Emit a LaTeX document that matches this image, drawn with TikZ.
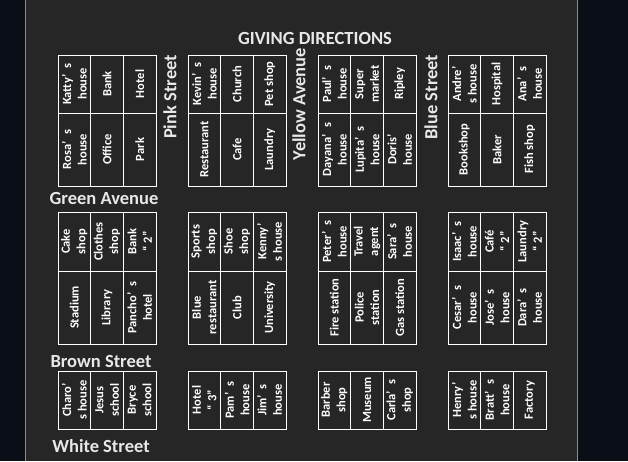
\documentclass[tikz,border=0pt]{standalone}
\usepackage{fontspec}
\setmainfont{Carlito}
\definecolor{nightBg}{RGB}{10,14,22}
\definecolor{panelG}{RGB}{38,38,38}
\definecolor{edgeG}{RGB}{140,140,140}
\definecolor{chalk}{RGB}{232,232,232}

\begin{document}
\begin{tikzpicture}[x=1pt,y=-1pt]
  \tikzset{cell/.style={draw=white,line width=0.9pt,rotate=90,minimum width=#1,minimum height=32.67pt,inner sep=1pt,outer sep=0pt,align=center,text=white,font=\fontsize{12.5}{15.5}\selectfont\bfseries},
    street/.style={text=chalk,inner sep=0pt,font=\fontsize{18.5}{20}\selectfont\bfseries}}
  \useasboundingbox (0,0) rectangle (628,461);
  \fill[nightBg] (0,0) rectangle (628,461);
  \fill[panelG] (25.5,0) rectangle (577.5,461);
  \draw[edgeG,line width=0.8pt] (25.5,0) -- (25.5,461) (577.5,0) -- (577.5,461);
  \node[text=chalk,font=\fontsize{18.5}{20}\selectfont\bfseries] (title) at (315,38) {GIVING DIRECTIONS};
  % first band of blocks
  \foreach \b/\ta/\tb/\tc in {0/{Katty’\enspace s\\house}/Bank/Hotel,1/{Kevin’\enspace s\\house}/Church/Pet shop,2/{Paul’\enspace s\\house}/{Super\\market}/Ripley,3/{Andre’\\s house}/Hospital/{Ana’\enspace s\\house}} {
    \node[cell=58pt] (a\b-1) at ({74.33+130*\b},84) {\ta};
    \node[cell=58pt] (a\b-2) at ({107+130*\b},84) {\tb};
    \node[cell=58pt] (a\b-3) at ({139.67+130*\b},84) {\tc};
  }
  \foreach \b/\ta/\tb/\tc in {0/{Rosa’\enspace s\\house}/Office/Park,1/Restaurant/Cafe/Laundry,2/{Dayana’\enspace s\\house}/{Lupita’\enspace s\\house}/{Doris’\\house},3/Bookshop/Baker/Fish shop} {
    \node[cell=73pt] (b\b-1) at ({74.33+130*\b},149.5) {\ta};
    \node[cell=73pt] (b\b-2) at ({107+130*\b},149.5) {\tb};
    \node[cell=73pt] (b\b-3) at ({139.67+130*\b},149.5) {\tc};
  }
  % second band of blocks
  \foreach \b/\ta/\tb/\tc in {0/{Cake\\shop}/{Clothes\\shop}/{Bank\\“ 2”},1/{Sports\\shop}/{Shoe\\shop}/{Kenny’\\s house},2/{Peter’\enspace s\\house}/{Travel\\agent}/{Sara’\enspace s\\house},3/{Isaac’\enspace s\\house}/{Café\\“ 2”}/{Laundry\\“ 2”}} {
    \node[cell=59pt] (c\b-1) at ({74.33+130*\b},241.5) {\ta};
    \node[cell=59pt] (c\b-2) at ({107+130*\b},241.5) {\tb};
    \node[cell=59pt] (c\b-3) at ({139.67+130*\b},241.5) {\tc};
  }
  \foreach \b/\ta/\tb/\tc in {0/Stadium/Library/{Pancho’\enspace s\\hotel},1/{Blue\\restaurant}/Club/University,2/Fire station/{Police\\station}/Gas station,3/{Cesar’\enspace s\\house}/{Jose’\enspace s\\house}/{Dara’\enspace s\\house}} {
    \node[cell=73pt] (d\b-1) at ({74.33+130*\b},307.5) {\ta};
    \node[cell=73pt] (d\b-2) at ({107+130*\b},307.5) {\tb};
    \node[cell=73pt] (d\b-3) at ({139.67+130*\b},307.5) {\tc};
  }
  % third band of blocks
  \foreach \b/\ta/\tb/\tc in {0/{Charo’\\s house}/{Jesus\\school}/{Bryce\\school},1/{Hotel\\“ 3”}/{Pam’\enspace s\\house}/{Jim’\enspace s\\house},2/{Barber\\shop}/Museum/{Carla’\enspace s\\shop},3/{Henry’\\s house}/{Bratt’\enspace s\\house}/Factory} {
    \node[cell=58pt] (e\b-1) at ({74.33+130*\b},400) {\ta};
    \node[cell=58pt] (e\b-2) at ({107+130*\b},400) {\tb};
    \node[cell=58pt] (e\b-3) at ({139.67+130*\b},400) {\tc};
  }
  % street names
  \node[street,rotate=90] (pink) at (170,97) {Pink Street};
  \node[street,rotate=90] (yellow) at (299,104) {Yellow Avenue};
  \node[street,rotate=90] (blue) at (431,97) {Blue Street};
  \node[street] (green) at (104,198) {Green Avenue};
  \node[street] (brown) at (101,361) {Brown Street};
  \node[street] (white) at (101,446) {White Street};
\end{tikzpicture}
\end{document}
